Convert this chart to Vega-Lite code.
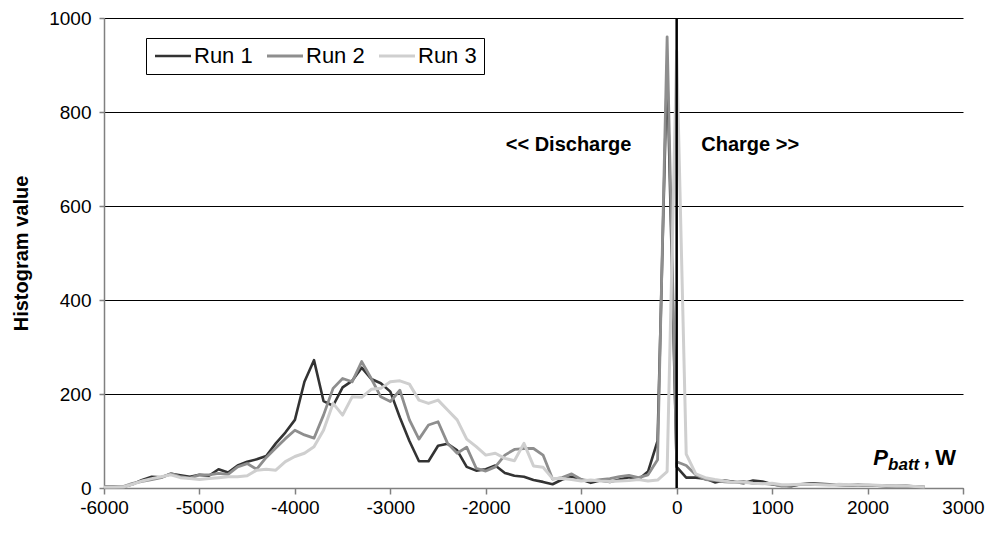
{
  "$schema": "https://vega.github.io/schema/vega-lite/v6.json",
  "autosize": "none",
  "width": 859,
  "height": 470,
  "padding": {"left": 104, "top": 18, "right": 31, "bottom": 50},
  "background": "white",
  "config": {
    "font": "Liberation Sans",
    "view": {"stroke": null},
    "axis": {"labelFont": "Liberation Sans", "titleFont": "Liberation Sans", "labelColor": "black", "titleColor": "black"}
  },
  "datasets": {
    "hist": [
      {"p": -6000, "run": "Run 1", "h": 3}, {"p": -5900, "run": "Run 1", "h": 3}, {"p": -5800, "run": "Run 1", "h": 2}, {"p": -5700, "run": "Run 1", "h": 8},
      {"p": -5600, "run": "Run 1", "h": 17}, {"p": -5500, "run": "Run 1", "h": 24}, {"p": -5400, "run": "Run 1", "h": 23}, {"p": -5300, "run": "Run 1", "h": 30},
      {"p": -5200, "run": "Run 1", "h": 27}, {"p": -5100, "run": "Run 1", "h": 24}, {"p": -5000, "run": "Run 1", "h": 28}, {"p": -4900, "run": "Run 1", "h": 26},
      {"p": -4800, "run": "Run 1", "h": 40}, {"p": -4700, "run": "Run 1", "h": 33}, {"p": -4600, "run": "Run 1", "h": 48}, {"p": -4500, "run": "Run 1", "h": 56},
      {"p": -4400, "run": "Run 1", "h": 61}, {"p": -4300, "run": "Run 1", "h": 68}, {"p": -4200, "run": "Run 1", "h": 95}, {"p": -4100, "run": "Run 1", "h": 118},
      {"p": -4000, "run": "Run 1", "h": 145}, {"p": -3900, "run": "Run 1", "h": 226}, {"p": -3800, "run": "Run 1", "h": 272}, {"p": -3700, "run": "Run 1", "h": 185},
      {"p": -3600, "run": "Run 1", "h": 175}, {"p": -3500, "run": "Run 1", "h": 214}, {"p": -3400, "run": "Run 1", "h": 228}, {"p": -3300, "run": "Run 1", "h": 256},
      {"p": -3200, "run": "Run 1", "h": 232}, {"p": -3100, "run": "Run 1", "h": 223}, {"p": -3000, "run": "Run 1", "h": 205}, {"p": -2900, "run": "Run 1", "h": 150},
      {"p": -2800, "run": "Run 1", "h": 100}, {"p": -2700, "run": "Run 1", "h": 57}, {"p": -2600, "run": "Run 1", "h": 57}, {"p": -2500, "run": "Run 1", "h": 90},
      {"p": -2400, "run": "Run 1", "h": 94}, {"p": -2300, "run": "Run 1", "h": 80}, {"p": -2200, "run": "Run 1", "h": 45}, {"p": -2100, "run": "Run 1", "h": 37},
      {"p": -2000, "run": "Run 1", "h": 40}, {"p": -1900, "run": "Run 1", "h": 48}, {"p": -1800, "run": "Run 1", "h": 32}, {"p": -1700, "run": "Run 1", "h": 26},
      {"p": -1600, "run": "Run 1", "h": 24}, {"p": -1500, "run": "Run 1", "h": 17}, {"p": -1400, "run": "Run 1", "h": 13}, {"p": -1300, "run": "Run 1", "h": 8},
      {"p": -1200, "run": "Run 1", "h": 18}, {"p": -1100, "run": "Run 1", "h": 24}, {"p": -1000, "run": "Run 1", "h": 18}, {"p": -900, "run": "Run 1", "h": 11},
      {"p": -800, "run": "Run 1", "h": 16}, {"p": -700, "run": "Run 1", "h": 13}, {"p": -600, "run": "Run 1", "h": 18}, {"p": -500, "run": "Run 1", "h": 23},
      {"p": -400, "run": "Run 1", "h": 18}, {"p": -300, "run": "Run 1", "h": 35}, {"p": -200, "run": "Run 1", "h": 100}, {"p": -100, "run": "Run 1", "h": 900},
      {"p": 0, "run": "Run 1", "h": 45}, {"p": 100, "run": "Run 1", "h": 22}, {"p": 200, "run": "Run 1", "h": 22}, {"p": 300, "run": "Run 1", "h": 20},
      {"p": 400, "run": "Run 1", "h": 12}, {"p": 500, "run": "Run 1", "h": 16}, {"p": 600, "run": "Run 1", "h": 13}, {"p": 700, "run": "Run 1", "h": 10},
      {"p": 800, "run": "Run 1", "h": 16}, {"p": 900, "run": "Run 1", "h": 14}, {"p": 1000, "run": "Run 1", "h": 8}, {"p": 1100, "run": "Run 1", "h": 5},
      {"p": 1200, "run": "Run 1", "h": 4}, {"p": 1300, "run": "Run 1", "h": 8}, {"p": 1400, "run": "Run 1", "h": 10}, {"p": 1500, "run": "Run 1", "h": 9},
      {"p": 1600, "run": "Run 1", "h": 8}, {"p": 1700, "run": "Run 1", "h": 7}, {"p": 1800, "run": "Run 1", "h": 6}, {"p": 1900, "run": "Run 1", "h": 5},
      {"p": 2000, "run": "Run 1", "h": 6}, {"p": 2100, "run": "Run 1", "h": 5}, {"p": 2200, "run": "Run 1", "h": 4}, {"p": 2300, "run": "Run 1", "h": 4},
      {"p": 2400, "run": "Run 1", "h": 4}, {"p": 2500, "run": "Run 1", "h": 3}, {"p": 2600, "run": "Run 1", "h": 2},

      {"p": -6000, "run": "Run 2", "h": 2}, {"p": -5900, "run": "Run 2", "h": 2}, {"p": -5800, "run": "Run 2", "h": 3}, {"p": -5700, "run": "Run 2", "h": 10},
      {"p": -5600, "run": "Run 2", "h": 14}, {"p": -5500, "run": "Run 2", "h": 18}, {"p": -5400, "run": "Run 2", "h": 22}, {"p": -5300, "run": "Run 2", "h": 31},
      {"p": -5200, "run": "Run 2", "h": 24}, {"p": -5100, "run": "Run 2", "h": 21}, {"p": -5000, "run": "Run 2", "h": 28}, {"p": -4900, "run": "Run 2", "h": 28},
      {"p": -4800, "run": "Run 2", "h": 31}, {"p": -4700, "run": "Run 2", "h": 29}, {"p": -4600, "run": "Run 2", "h": 45}, {"p": -4500, "run": "Run 2", "h": 52},
      {"p": -4400, "run": "Run 2", "h": 40}, {"p": -4300, "run": "Run 2", "h": 65}, {"p": -4200, "run": "Run 2", "h": 85}, {"p": -4100, "run": "Run 2", "h": 105},
      {"p": -4000, "run": "Run 2", "h": 123}, {"p": -3900, "run": "Run 2", "h": 113}, {"p": -3800, "run": "Run 2", "h": 106}, {"p": -3700, "run": "Run 2", "h": 155},
      {"p": -3600, "run": "Run 2", "h": 212}, {"p": -3500, "run": "Run 2", "h": 233}, {"p": -3400, "run": "Run 2", "h": 226}, {"p": -3300, "run": "Run 2", "h": 269},
      {"p": -3200, "run": "Run 2", "h": 233}, {"p": -3100, "run": "Run 2", "h": 194}, {"p": -3000, "run": "Run 2", "h": 184}, {"p": -2900, "run": "Run 2", "h": 208},
      {"p": -2800, "run": "Run 2", "h": 145}, {"p": -2700, "run": "Run 2", "h": 104}, {"p": -2600, "run": "Run 2", "h": 134}, {"p": -2500, "run": "Run 2", "h": 141},
      {"p": -2400, "run": "Run 2", "h": 95}, {"p": -2300, "run": "Run 2", "h": 74}, {"p": -2200, "run": "Run 2", "h": 87}, {"p": -2100, "run": "Run 2", "h": 42},
      {"p": -2000, "run": "Run 2", "h": 36}, {"p": -1900, "run": "Run 2", "h": 45}, {"p": -1800, "run": "Run 2", "h": 70}, {"p": -1700, "run": "Run 2", "h": 82},
      {"p": -1600, "run": "Run 2", "h": 84}, {"p": -1500, "run": "Run 2", "h": 84}, {"p": -1400, "run": "Run 2", "h": 70}, {"p": -1300, "run": "Run 2", "h": 19},
      {"p": -1200, "run": "Run 2", "h": 22}, {"p": -1100, "run": "Run 2", "h": 30}, {"p": -1000, "run": "Run 2", "h": 18}, {"p": -900, "run": "Run 2", "h": 15},
      {"p": -800, "run": "Run 2", "h": 18}, {"p": -700, "run": "Run 2", "h": 20}, {"p": -600, "run": "Run 2", "h": 24}, {"p": -500, "run": "Run 2", "h": 27},
      {"p": -400, "run": "Run 2", "h": 22}, {"p": -300, "run": "Run 2", "h": 28}, {"p": -200, "run": "Run 2", "h": 60}, {"p": -100, "run": "Run 2", "h": 960},
      {"p": 0, "run": "Run 2", "h": 56}, {"p": 100, "run": "Run 2", "h": 48}, {"p": 200, "run": "Run 2", "h": 28}, {"p": 300, "run": "Run 2", "h": 18},
      {"p": 400, "run": "Run 2", "h": 16}, {"p": 500, "run": "Run 2", "h": 13}, {"p": 600, "run": "Run 2", "h": 12}, {"p": 700, "run": "Run 2", "h": 14},
      {"p": 800, "run": "Run 2", "h": 10}, {"p": 900, "run": "Run 2", "h": 10}, {"p": 1000, "run": "Run 2", "h": 8}, {"p": 1100, "run": "Run 2", "h": 4},
      {"p": 1200, "run": "Run 2", "h": 6}, {"p": 1300, "run": "Run 2", "h": 7}, {"p": 1400, "run": "Run 2", "h": 8}, {"p": 1500, "run": "Run 2", "h": 7},
      {"p": 1600, "run": "Run 2", "h": 7}, {"p": 1700, "run": "Run 2", "h": 6}, {"p": 1800, "run": "Run 2", "h": 6}, {"p": 1900, "run": "Run 2", "h": 7},
      {"p": 2000, "run": "Run 2", "h": 6}, {"p": 2100, "run": "Run 2", "h": 5}, {"p": 2200, "run": "Run 2", "h": 5}, {"p": 2300, "run": "Run 2", "h": 4},
      {"p": 2400, "run": "Run 2", "h": 5}, {"p": 2500, "run": "Run 2", "h": 3}, {"p": 2600, "run": "Run 2", "h": 2},

      {"p": -6000, "run": "Run 3", "h": 2}, {"p": -5900, "run": "Run 3", "h": 2}, {"p": -5800, "run": "Run 3", "h": 2}, {"p": -5700, "run": "Run 3", "h": 8},
      {"p": -5600, "run": "Run 3", "h": 15}, {"p": -5500, "run": "Run 3", "h": 20}, {"p": -5400, "run": "Run 3", "h": 24}, {"p": -5300, "run": "Run 3", "h": 28},
      {"p": -5200, "run": "Run 3", "h": 22}, {"p": -5100, "run": "Run 3", "h": 20}, {"p": -5000, "run": "Run 3", "h": 18}, {"p": -4900, "run": "Run 3", "h": 20},
      {"p": -4800, "run": "Run 3", "h": 22}, {"p": -4700, "run": "Run 3", "h": 24}, {"p": -4600, "run": "Run 3", "h": 24}, {"p": -4500, "run": "Run 3", "h": 26},
      {"p": -4400, "run": "Run 3", "h": 38}, {"p": -4300, "run": "Run 3", "h": 40}, {"p": -4200, "run": "Run 3", "h": 38}, {"p": -4100, "run": "Run 3", "h": 56},
      {"p": -4000, "run": "Run 3", "h": 67}, {"p": -3900, "run": "Run 3", "h": 74}, {"p": -3800, "run": "Run 3", "h": 88}, {"p": -3700, "run": "Run 3", "h": 123},
      {"p": -3600, "run": "Run 3", "h": 180}, {"p": -3500, "run": "Run 3", "h": 155}, {"p": -3400, "run": "Run 3", "h": 194}, {"p": -3300, "run": "Run 3", "h": 193},
      {"p": -3200, "run": "Run 3", "h": 210}, {"p": -3100, "run": "Run 3", "h": 212}, {"p": -3000, "run": "Run 3", "h": 226}, {"p": -2900, "run": "Run 3", "h": 228},
      {"p": -2800, "run": "Run 3", "h": 221}, {"p": -2700, "run": "Run 3", "h": 187}, {"p": -2600, "run": "Run 3", "h": 180}, {"p": -2500, "run": "Run 3", "h": 187},
      {"p": -2400, "run": "Run 3", "h": 166}, {"p": -2300, "run": "Run 3", "h": 145}, {"p": -2200, "run": "Run 3", "h": 104}, {"p": -2100, "run": "Run 3", "h": 88},
      {"p": -2000, "run": "Run 3", "h": 70}, {"p": -1900, "run": "Run 3", "h": 74}, {"p": -1800, "run": "Run 3", "h": 63}, {"p": -1700, "run": "Run 3", "h": 58},
      {"p": -1600, "run": "Run 3", "h": 95}, {"p": -1500, "run": "Run 3", "h": 47}, {"p": -1400, "run": "Run 3", "h": 44}, {"p": -1300, "run": "Run 3", "h": 20},
      {"p": -1200, "run": "Run 3", "h": 20}, {"p": -1100, "run": "Run 3", "h": 18}, {"p": -1000, "run": "Run 3", "h": 15}, {"p": -900, "run": "Run 3", "h": 17},
      {"p": -800, "run": "Run 3", "h": 15}, {"p": -700, "run": "Run 3", "h": 14}, {"p": -600, "run": "Run 3", "h": 15}, {"p": -500, "run": "Run 3", "h": 16},
      {"p": -400, "run": "Run 3", "h": 18}, {"p": -300, "run": "Run 3", "h": 15}, {"p": -200, "run": "Run 3", "h": 17}, {"p": -100, "run": "Run 3", "h": 35},
      {"p": 0, "run": "Run 3", "h": 930}, {"p": 100, "run": "Run 3", "h": 72}, {"p": 200, "run": "Run 3", "h": 30}, {"p": 300, "run": "Run 3", "h": 22},
      {"p": 400, "run": "Run 3", "h": 18}, {"p": 500, "run": "Run 3", "h": 15}, {"p": 600, "run": "Run 3", "h": 12}, {"p": 700, "run": "Run 3", "h": 12},
      {"p": 800, "run": "Run 3", "h": 10}, {"p": 900, "run": "Run 3", "h": 9}, {"p": 1000, "run": "Run 3", "h": 10}, {"p": 1100, "run": "Run 3", "h": 7},
      {"p": 1200, "run": "Run 3", "h": 7}, {"p": 1300, "run": "Run 3", "h": 8}, {"p": 1400, "run": "Run 3", "h": 8}, {"p": 1500, "run": "Run 3", "h": 7},
      {"p": 1600, "run": "Run 3", "h": 6}, {"p": 1700, "run": "Run 3", "h": 8}, {"p": 1800, "run": "Run 3", "h": 7}, {"p": 1900, "run": "Run 3", "h": 6},
      {"p": 2000, "run": "Run 3", "h": 7}, {"p": 2100, "run": "Run 3", "h": 6}, {"p": 2200, "run": "Run 3", "h": 5}, {"p": 2300, "run": "Run 3", "h": 4},
      {"p": 2400, "run": "Run 3", "h": 4}, {"p": 2500, "run": "Run 3", "h": 3}, {"p": 2600, "run": "Run 3", "h": 2}
    ]
  },
  "layer": [
    {
      "data": {"name": "hist"},
      "mark": {"type": "line", "interpolate": "linear", "strokeJoin": "round"},
      "encoding": {
        "x": {
          "field": "p", "type": "quantitative",
          "scale": {"domain": [-6000, 3000], "nice": false, "zero": false},
          "axis": {
            "values": [-6000, -5000, -4000, -3000, -2000, -1000, 0, 1000, 2000, 3000],
            "labelExpr": "'' + datum.value", "grid": false, "title": null,
            "domainColor": "#808080", "domainWidth": 1.5, "tickColor": "#808080", "tickWidth": 1.5, "tickSize": 6,
            "labelFontSize": 19, "labelPadding": 4, "labelFlush": false
          }
        },
        "y": {
          "field": "h", "type": "quantitative",
          "scale": {"domain": [0, 1000], "nice": false},
          "axis": {
            "values": [0, 200, 400, 600, 800, 1000],
            "labelExpr": "'' + datum.value",
            "grid": true, "gridColor": "black", "gridWidth": 1, "gridOpacity": 1,
            "title": "Histogram value", "titleFontSize": 20, "titleFontWeight": "bold", "titlePadding": 17,
            "domainColor": "#808080", "domainWidth": 1.5, "tickColor": "#808080", "tickWidth": 1.5, "tickSize": 5,
            "labelFontSize": 19, "labelPadding": 8
          }
        },
        "color": {
          "field": "run", "type": "nominal",
          "scale": {"domain": ["Run 1", "Run 2", "Run 3"], "range": ["#333333", "#8e8e8e", "#cfcfcf"]},
          "legend": {
            "orient": "none", "legendX": 42, "legendY": 20, "direction": "horizontal", "title": null,
            "symbolType": "M-2,0H2", "symbolSize": 324, "symbolStrokeWidth": 2.5, "symbolOffset": 9,
            "labelFontSize": 22, "labelFont": "Liberation Sans", "labelColor": "black", "labelOffset": 10,
            "columnPadding": 8, "strokeColor": "black", "padding": 7, "fillColor": "white"
          }
        },
        "strokeWidth": {
          "field": "run", "type": "nominal",
          "scale": {"domain": ["Run 1", "Run 2", "Run 3"], "range": [2.6, 3, 1.2]},
          "legend": null
        }
      }
    },
    {
      "data": {"values": [{"p": 0, "lo": 0, "hi": 1000}]},
      "mark": {"type": "rule", "color": "black", "strokeWidth": 2.5},
      "encoding": {
        "x": {"field": "p", "type": "quantitative"},
        "y": {"field": "lo", "type": "quantitative"},
        "y2": {"field": "hi"}
      }
    },
    {
      "data": {"values": [{"p": -1133, "h": 730, "t": "<< Discharge"}, {"p": 770, "h": 730, "t": "Charge >>"}]},
      "mark": {"type": "text", "fontSize": 20, "fontWeight": "bold", "font": "Liberation Sans", "color": "black", "align": "center", "baseline": "middle"},
      "encoding": {
        "x": {"field": "p", "type": "quantitative"},
        "y": {"field": "h", "type": "quantitative"},
        "text": {"field": "t"}
      }
    },
    {
      "data": {"values": [{"p": 2059, "h": 49, "t": "P"}]},
      "mark": {"type": "text", "fontSize": 22, "fontWeight": "bold", "fontStyle": "italic", "font": "Liberation Sans", "color": "black", "align": "left", "baseline": "alphabetic"},
      "encoding": {
        "x": {"field": "p", "type": "quantitative"},
        "y": {"field": "h", "type": "quantitative"},
        "text": {"field": "t"}
      }
    },
    {
      "data": {"values": [{"p": 2215, "h": 38, "t": "batt"}]},
      "mark": {"type": "text", "fontSize": 17, "fontWeight": "bold", "fontStyle": "italic", "font": "Liberation Sans", "color": "black", "align": "left", "baseline": "alphabetic"},
      "encoding": {
        "x": {"field": "p", "type": "quantitative"},
        "y": {"field": "h", "type": "quantitative"},
        "text": {"field": "t"}
      }
    },
    {
      "data": {"values": [{"p": 2590, "h": 49, "t": ","}, {"p": 2709, "h": 49, "t": "W"}]},
      "mark": {"type": "text", "fontSize": 22, "fontWeight": "bold", "font": "Liberation Sans", "color": "black", "align": "left", "baseline": "alphabetic"},
      "encoding": {
        "x": {"field": "p", "type": "quantitative"},
        "y": {"field": "h", "type": "quantitative"},
        "text": {"field": "t"}
      }
    }
  ]
}
